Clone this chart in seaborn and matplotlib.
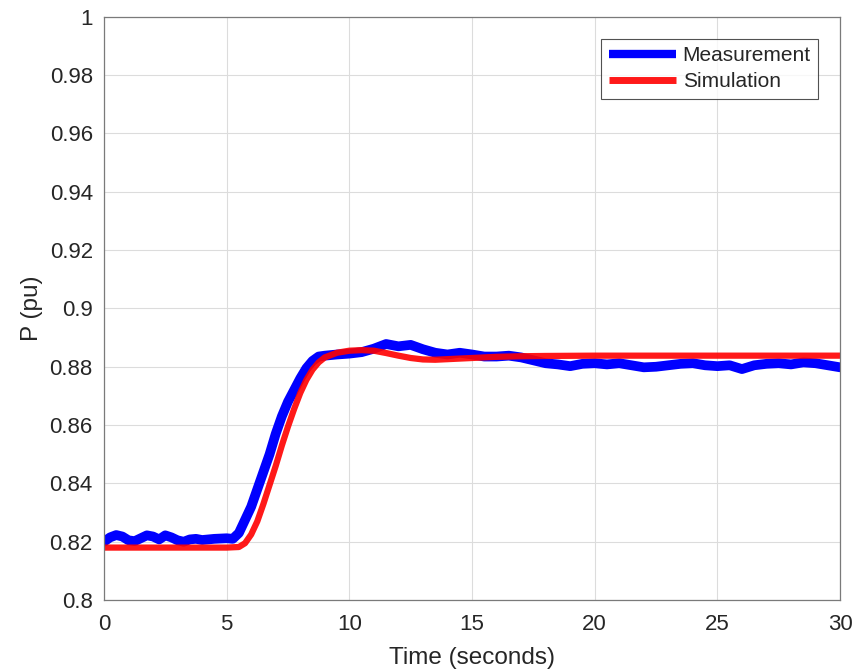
import numpy as np
import pandas as pd
import matplotlib
matplotlib.use("Agg")
import matplotlib.pyplot as plt
import seaborn as sns

meas_t = [0, 0.25, 0.5, 0.75, 1.0, 1.25, 1.5, 1.75, 2.0, 2.25, 2.5, 2.75, 3.0, 3.25,
          3.5, 3.75, 4.0, 4.5, 5.0, 5.25, 5.5, 5.75, 6.0, 6.25, 6.5, 6.75, 7.0, 7.25,
          7.5, 7.75, 8.0, 8.25, 8.5, 8.75, 9.0, 9.5, 10.0, 10.5, 11.0, 11.5, 12.0,
          12.5, 13.0, 13.5, 14.0, 14.5, 15.0, 15.5, 16.0, 16.5, 17.0, 17.5, 18.0,
          18.5, 19.0, 19.5, 20.0, 20.5, 21.0, 21.5, 22.0, 22.5, 23.0, 23.5, 24.0,
          24.5, 25.0, 25.5, 26.0, 26.5, 27.0, 27.5, 28.0, 28.5, 29.0, 29.5, 30.0]
meas_p = [0.8200, 0.8215, 0.8223, 0.8218, 0.8205, 0.8202, 0.8212, 0.8222, 0.8218,
          0.8208, 0.8222, 0.8215, 0.8205, 0.8200, 0.8208, 0.8210, 0.8206, 0.8210,
          0.8212, 0.8210, 0.8230, 0.8275, 0.8320, 0.8380, 0.8440, 0.8500, 0.8570,
          0.8630, 0.8680, 0.8720, 0.8760, 0.8795, 0.8820, 0.8835, 0.8838, 0.8842,
          0.8845, 0.8850, 0.8862, 0.8878, 0.8870, 0.8875, 0.8860, 0.8848, 0.8842,
          0.8848, 0.8842, 0.8835, 0.8835, 0.8838, 0.8832, 0.8822, 0.8812, 0.8808,
          0.8802, 0.8810, 0.8812, 0.8808, 0.8812, 0.8805, 0.8798, 0.8800, 0.8805,
          0.8810, 0.8812, 0.8805, 0.8802, 0.8805, 0.8792, 0.8805, 0.8810, 0.8812,
          0.8808, 0.8815, 0.8812, 0.8805, 0.8798]

# simulated response
sim_t = [0, 5.0, 5.5, 5.75, 6.0, 6.25, 6.5, 6.75, 7.0, 7.25, 7.5, 7.75, 8.0, 8.25,
         8.5, 8.75, 9.0, 9.5, 10.0, 10.5, 11.0, 11.5, 12.0, 12.5, 13.0, 13.5, 14.0,
         15.0, 16.0, 17.0, 18.0, 20.0, 25.0, 30.0]
sim_p = [0.8180, 0.8180, 0.8182, 0.8195, 0.8225, 0.8270, 0.8330, 0.8395, 0.8460,
         0.8530, 0.8595, 0.8655, 0.8710, 0.8755, 0.8790, 0.8815, 0.8832, 0.8848,
         0.8855, 0.8857, 0.8855, 0.8847, 0.8838, 0.8830, 0.8825, 0.8824, 0.8826,
         0.8830, 0.8834, 0.8836, 0.8837, 0.8838, 0.8838, 0.8838]

x_ticks = [0, 5, 10, 15, 20, 25, 30]
y_ticks = [0.8, 0.82, 0.84, 0.86, 0.88, 0.9, 0.92, 0.94, 0.96, 0.98, 1.0]
y_labels = ["0.8", "0.82", "0.84", "0.86", "0.88", "0.9", "0.92", "0.94", "0.96", "0.98", "1"]

sns.set_style("white")
plt.rcParams['font.family'] = ['Liberation Sans', 'DejaVu Sans']

meas = pd.DataFrame({"t": meas_t, "p": meas_p})
sim = pd.DataFrame({"t": sim_t, "p": sim_p})

fig = plt.figure(figsize=(8.59, 6.69), dpi=100)
ax = fig.add_axes([0.121, 0.103, 0.857, 0.872])

sns.lineplot(data=meas, x="t", y="p", ax=ax, color="#0000ff", linewidth=7,
             sort=False, estimator=None, label="Measurement",
             solid_joinstyle="round", solid_capstyle="round")
sns.lineplot(data=sim, x="t", y="p", ax=ax, color="#ff0000", linewidth=4.5,
             sort=False, estimator=None, label="Simulation", alpha=0.9)

ax.set_xlim(0, 30)
ax.set_ylim(0.8, 1.0)
ax.set_xticks(x_ticks)
ax.set_xticklabels([str(v) for v in x_ticks])
ax.set_yticks(y_ticks)
ax.set_yticklabels(y_labels)
ax.grid(True, color="#dcdcdc", linewidth=0.8)
ax.tick_params(direction="in", length=5, labelsize=16, colors="#262626")
ax.tick_params(axis="x", pad=10)
ax.tick_params(axis="y", pad=8)
for s in ax.spines.values():
    s.set_color("#7a7a7a")
    s.set_linewidth(0.9)

ax.set_xlabel("Time (seconds)", fontsize=17.5, color="#262626", labelpad=9)
ax.set_ylabel("P (pu)", fontsize=17.5, color="#262626", labelpad=5)

leg = ax.legend(loc="upper right", bbox_to_anchor=(0.970, 0.962), borderaxespad=0,
                fontsize=15, frameon=True, fancybox=False, edgecolor="#262626",
                handlelength=3.25, borderpad=0.35, labelspacing=0.35, handletextpad=0.3)
leg.get_frame().set_linewidth(0.8)
for line, w in zip(leg.get_lines(), [6, 5]):
    line.set_linewidth(w)
    line.set_solid_capstyle("butt")

fig.savefig("out.png", dpi=100)
